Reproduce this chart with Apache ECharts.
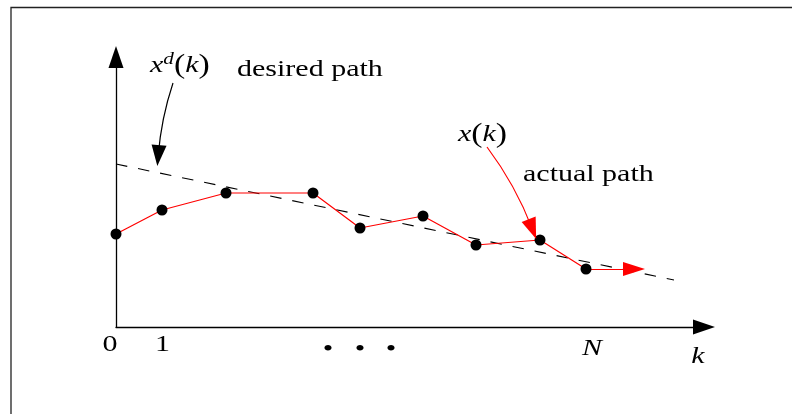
<!DOCTYPE html>
<html>
<head>
<meta charset="utf-8">
<script src="https://cdn.jsdelivr.net/npm/echarts@6/dist/echarts.min.js"></script>
<style>html,body{margin:0;padding:0;background:#fff}#c{width:792px;height:414px}</style>
</head>
<body>
<div id="c"></div>
<script>
// Actual path x(k): sample positions (horizontal) and values
const pathX = [0, 4.6, 11, 19.7, 24.4, 30.7, 36, 42.4, 47];
const pathY = [9.3, 11.7, 13.4, 13.4, 9.9, 11.1, 8.2, 8.7, 5.8];
// Desired path x^d(k): straight dashed line endpoints
const desiredX = [0, 55.8];
const desiredY = [16.3, 4.7];
// Continuation arrow of the actual path
const contFrom = [47, 5.8];
const contTo = [51.8, 5.8];
// Annotation arrows (from label to curve)
const desiredArrow = [[5.7, 24.4], [4.22, 17.15]];
const actualArrow = [[37.1, 18.0], [41.64, 9.79]];
// Axis tick labels
const tickLabels = ['0', '1', 'N'];
const tickLabelX = [-0.6, 4.65, 47.6];
const tickLabelY = [-1.8, -1.75, -2.15];
const tickItalic = [false, false, true];
// Ellipsis dots below the axis
const dotX = [21.2, 24.4, 27.5];
const dotY = -2.25;
// Axis name
const axisName = 'k';
const axisNamePos = [58.2, -2.95];
// Text annotations
const annTexts = ['{i|x}{s|d}{p|(}{i|k}{p|)}', 'desired path', '{i|x}{p|(}{i|k}{p|)}', 'actual path'];
const annPos = [[3.4, 26.1], [12.1, 25.7], [34.2, 19.2], [40.7, 15.2]];

const FF = '"Liberation Serif", "DejaVu Serif", serif';
const FS = 24;
const SX = 1.25;

const chart = echarts.init(document.getElementById('c'), null, {renderer: 'canvas'});

const axisCommon = {
  axisTick: {show: false},
  axisLabel: {show: false},
  splitLine: {show: false},
  axisLine: {
    show: true,
    symbol: ['none', 'triangle'],
    symbolSize: [15, 22],
    lineStyle: {color: '#000', width: 1.3}
  }
};

chart.setOption({
  animation: false,
  backgroundColor: '#fff',
  grid: {left: 116, right: 88, top: 57, bottom: 87, outerBoundsMode: 'none'},
  xAxis: Object.assign({type: 'value', min: 0, max: 58.8}, axisCommon),
  yAxis: Object.assign({type: 'value', min: 0, max: 27}, axisCommon),
  series: [
    {
      name: 'desired path',
      type: 'line',
      data: desiredX.map((x, i) => [x, desiredY[i]]),
      symbol: 'none',
      lineStyle: {color: '#000', width: 1.1, type: [11.5, 11]},
      silent: true,
      z: 2
    },
    {
      name: 'continuation',
      type: 'lines',
      coordinateSystem: 'cartesian2d',
      data: [{coords: [contFrom, contTo]}],
      symbol: ['none', 'triangle'],
      symbolSize: [[14, 22], [14, 22]],
      lineStyle: {color: '#ff0000', width: 1.2, opacity: 1},
      silent: true,
      z: 3
    },
    {
      name: 'actual path',
      type: 'line',
      data: pathX.map((x, i) => [x, pathY[i]]),
      symbol: 'circle',
      symbolSize: 11,
      showSymbol: true,
      itemStyle: {color: '#000'},
      lineStyle: {color: '#ff0000', width: 1.2},
      silent: true,
      z: 4
    },
    {
      name: 'desired arrow',
      type: 'lines',
      coordinateSystem: 'cartesian2d',
      data: [{coords: desiredArrow}],
      symbol: ['none', 'triangle'],
      symbolSize: [[15, 21], [15, 21]],
      lineStyle: {color: '#000', width: 1.2, opacity: 1, curveness: -0.06},
      silent: true,
      z: 5
    },
    {
      name: 'actual arrow',
      type: 'lines',
      coordinateSystem: 'cartesian2d',
      data: [{coords: actualArrow}],
      symbol: ['none', 'triangle'],
      symbolSize: [[15, 21], [15, 21]],
      lineStyle: {color: '#ff0000', width: 1.2, opacity: 1, curveness: 0.07},
      silent: true,
      z: 5
    }
  ]
});

function px(p) { return chart.convertToPixel({gridIndex: 0}, p); }

const richStyles = {
  i: {fontFamily: FF, fontStyle: 'italic', fontSize: FS, lineHeight: 30, fill: '#000'},
  p: {fontFamily: FF, fontSize: 27, lineHeight: 30, fill: '#000'},
  s: {fontFamily: FF, fontStyle: 'italic', fontSize: 17, lineHeight: 10, verticalAlign: 'top', fill: '#000'}
};

const graphics = [];
graphics.push({
  type: 'rect', silent: true, z: 0,
  shape: {x: 11, y: 7.5, width: 1000, height: 1000},
  style: {fill: 'none', stroke: '#222', lineWidth: 1.3}
});

function addText(text, pos, align, italic, rich) {
  const p = px(pos);
  graphics.push({
    type: 'text', silent: true, z: 10,
    x: p[0], y: p[1], scaleX: SX, scaleY: 1,
    style: {
      text: text,
      fontFamily: FF,
      fontSize: FS,
      fontStyle: italic ? 'italic' : 'normal',
      fill: '#000',
      align: align, textAlign: align,
      verticalAlign: 'middle', textVerticalAlign: 'middle',
      rich: rich || undefined
    }
  });
}

tickLabels.forEach((t, i) => addText(t, [tickLabelX[i], tickLabelY[i]], 'center', tickItalic[i]));
dotX.forEach(x => addText('•', [x, dotY], 'center', false));
addText(axisName, axisNamePos, 'center', true);
annTexts.forEach((t, i) => addText(t, annPos[i], 'left', false, t.indexOf('{') >= 0 ? richStyles : null));

chart.setOption({graphic: graphics});
</script>
</body>
</html>
